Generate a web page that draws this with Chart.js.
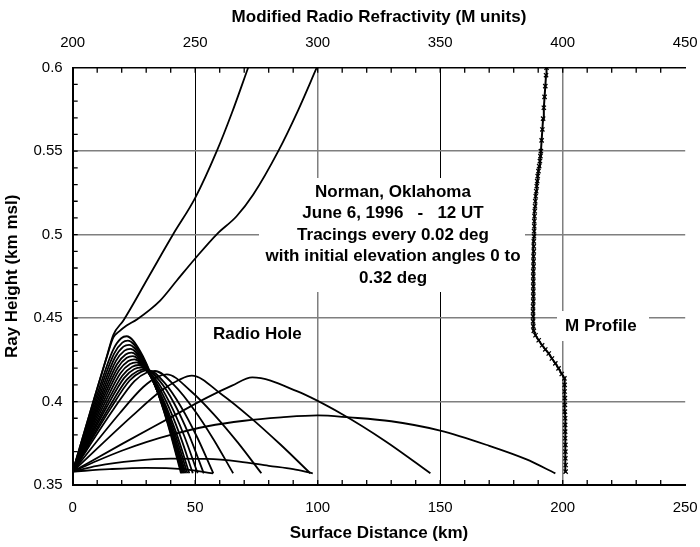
<!DOCTYPE html>
<html>
  <head>
    <meta charset="utf-8">
    <title>Radio Hole</title>
    <script src="https://cdn.jsdelivr.net/npm/chart.js@4.4.1/dist/chart.umd.min.js"></script>
    <style>
      html, body { margin: 0; padding: 0; background: #fff; }
      #wrap { width: 700px; height: 547px; }
    </style>
  </head>
  <body>
    <div id="wrap"><canvas id="myChart" width="700" height="547"></canvas></div>

    <script type="text/javascript">
      // tick labels
      var distTicks = ['0', '50', '100', '150', '200', '250'];
      var refrTicks = ['200', '250', '300', '350', '400', '450'];
      var heightTicks = ['0.35', '0.4', '0.45', '0.5', '0.55', '0.6'];

      // ray tracings, [surface distance km, height km]
      var rayEscape1 = [[0,0.358],[8.3,0.3995],[14,0.4275],[16.6,0.4400],[20.7,0.4486],[30.9,0.4745],[41,0.5002],[50,0.522],[58.8,0.55],[65,0.573],[71.6,0.6]];
      var rayEscape2 = [[0,0.358],[8.3,0.3993],[14,0.427],[16.6,0.4385],[19,0.442],[22,0.4455],[26.2,0.4492],[35.7,0.4605],[42.5,0.4725],[50,0.4857],[58.8,0.5002],[66.9,0.511],[73.7,0.524],[83.9,0.55],[92,0.5745],[99.6,0.6]];
      var rayA1 = [[0,0.358],[11,0.4087],[16.5,0.4310],[19.8,0.4379],[22,0.4391],[27.55,0.4302],[33.1,0.4120],[38.65,0.3873],[44.2,0.357]];
      var rayA2 = [[0,0.358],[11.25,0.4071],[16.9,0.4287],[20.25,0.4353],[22.5,0.4365],[28,0.4279],[33.5,0.4103],[39,0.3863],[44.5,0.357]];
      var rayA3 = [[0,0.358],[11.5,0.4055],[17.25,0.4264],[20.7,0.4329],[23,0.434],[28.45,0.4256],[33.9,0.4086],[39.35,0.3854],[44.8,0.357]];
      var rayA4 = [[0,0.358],[11.75,0.404],[17.6,0.4242],[21.15,0.4305],[23.5,0.4316],[28.9,0.4235],[34.35,0.4070],[39.8,0.3845],[45.2,0.357]];
      var rayA5 = [[0,0.358],[12,0.4026],[18,0.4222],[21.6,0.4282],[24,0.4293],[29.4,0.4214],[34.8,0.4054],[40.2,0.3837],[45.6,0.357]];
      var rayA6 = [[0,0.358],[12.25,0.4013],[18.4,0.4203],[22.05,0.4262],[24.5,0.4272],[29.9,0.4196],[35.3,0.4040],[40.7,0.3829],[46.1,0.357]];
      var rayA7 = [[0,0.358],[12.6,0.4001],[18.9,0.4186],[22.7,0.4243],[25.2,0.4253],[30.6,0.4179],[36,0.4028],[41.4,0.3822],[46.8,0.357]];
      var rayA8 = [[0,0.358],[13,0.3989],[19.5,0.417],[23.4,0.4225],[26,0.4235],[31.4,0.4163],[36.8,0.4016],[42.2,0.3815],[47.6,0.357]];
      var rayA9 = [[0,0.358],[13.5,0.3979],[20.25,0.4155],[24.3,0.4209],[27,0.4219],[32.5,0.4148],[38,0.4005],[43.5,0.3809],[49,0.357]];
      var rayA10 = [[0,0.358],[14,0.397],[21,0.4142],[25.2,0.4195],[28,0.4204],[33.75,0.4135],[39.5,0.3995],[45.25,0.3804],[51,0.357]];
      var rayA11 = [[0,0.358],[14.75,0.3963],[22.1,0.4131],[26.55,0.4183],[29.5,0.4192],[35.5,0.4124],[41.5,0.3987],[47.5,0.3799],[53.5,0.357]];
      var rayA12 = [[0,0.358],[15.5,0.3959],[23.25,0.4126],[27.9,0.4178],[31,0.4187],[37.6,0.411],[44.2,0.3969],[50.8,0.3786],[57.4,0.357]];
      var rayB = [[0,0.358],[16.8,0.3957],[25.2,0.4123],[30.25,0.4174],[33.6,0.4183],[41.6,0.4095],[49.55,0.3951],[57.5,0.3773],[65.5,0.357]];
      var rayC = [[0,0.358],[19.2,0.393],[28.8,0.4087],[34.6,0.4148],[38.4,0.4163],[48.05,0.4065],[57.7,0.3922],[67.35,0.3755],[77,0.357]];
      var rayD = [[0,0.358],[24.3,0.3914],[36.5,0.4069],[43.7,0.4132],[48.6,0.4155],[60.7,0.4044],[72.8,0.3901],[84.9,0.3741],[97,0.357]];
      var rayE = [[0,0.358],[20,0.3745],[40,0.3905],[55,0.4025],[65,0.4095],[73.3,0.4145],[91.5,0.4062],[109.65,0.3927],[127.8,0.3761],[146,0.357]];
      var rayF = [[0,0.358],[10,0.3645],[20,0.3705],[30,0.3757],[40,0.38],[55,0.3852],[70,0.3885],[85,0.3905],[100,0.3917],[113,0.3905],[130,0.3882],[150,0.3826],[170,0.3735],[185,0.3655],[197,0.357]];
      var rayG = [[0,0.358],[10,0.3615],[25,0.3645],[40,0.3658],[55,0.3656],[68,0.364],[80,0.3615],[90,0.3595],[98,0.357]];
      var rayH = [[0,0.358],[15,0.3595],[30,0.3603],[45,0.3595],[57.3,0.357]];

      var rays = [rayEscape1, rayEscape2, rayA1, rayA2, rayA3, rayA4, rayA5, rayA6, rayA7, rayA8, rayA9, rayA10, rayA11, rayA12, rayB, rayC, rayD, rayE, rayF, rayG, rayH];

      // M profile
      var mHeight = [0.358,0.362,0.366,0.370,0.374,0.378,0.382,0.386,0.390,0.394,0.398,0.402,0.406,0.410,
        0.4139,0.4165,0.4199,0.4229,0.4258,0.4288,0.4312,0.4337,0.4367,0.4397,0.4423,
        0.445,0.448,0.451,0.454,0.457,0.460,0.463,0.466,0.469,0.472,0.475,0.478,0.481,0.484,0.487,0.490,0.493,0.496,0.499,
        0.502,0.505,0.508,0.511,0.514,0.517,0.520,0.523,0.526,0.529,0.532,0.535,0.538,0.541,0.544,0.547,0.550,
        0.5565,0.563,0.5695,0.576,0.5825,0.589,0.5955,0.6];
      var mUnits = [401.2,401.2,401.1,401.1,401.1,401.0,401.0,401.0,401.0,400.9,400.9,400.9,400.8,400.8,
        400.7,399.6,398.3,397.0,395.6,394.3,392.9,391.6,390.2,388.9,388.2,
        388.0,387.9,387.9,387.9,387.9,388.0,388.0,388.0,388.0,388.0,388.0,388.0,388.1,388.1,388.1,388.2,388.2,388.2,388.3,
        388.3,388.4,388.4,388.5,388.6,388.7,388.8,389.0,389.2,389.4,389.6,389.8,390.1,390.4,390.7,390.9,391.1,
        391.4,391.7,392.0,392.3,392.6,392.9,393.2,393.4];

      var FONT = '"Liberation Sans", Arial, Helvetica, sans-serif';
      var GRAY = '#7f7f7f';

      var datasets = [];
      for (var i = 0; i < rays.length; i++) {
        datasets.push({
          data: rays[i].map(function(p) { return {x: p[0], y: p[1]}; }),
          xAxisID: 'x',
          showLine: true,
          borderColor: '#000',
          borderWidth: 1.8,
          pointRadius: 0,
          cubicInterpolationMode: 'monotone'
        });
      }
      datasets.push({
        data: mHeight.map(function(h, k) { return {x: mUnits[k], y: h}; }),
        xAxisID: 'x2',
        showLine: true,
        borderColor: '#000',
        borderWidth: 2,
        tension: 0,
        pointStyle: 'crossRot',
        pointRadius: 3,
        pointBorderWidth: 1.3,
        pointBorderColor: '#000'
      });

      // no automatic side padding for the end labels
      function fitX(h) {
        return function(s) { s.height = h; s.paddingLeft = 0; s.paddingRight = 0; };
      }

      // white boxes behind the notes, minor ticks and the notes themselves
      var notes = {
        id: 'notes',
        beforeDatasetsDraw: function(chart) {
          var ctx = chart.ctx;
          ctx.save();
          ctx.fillStyle = '#fff';
          ctx.fillRect(259, 178, 266, 114);
          ctx.fillRect(557, 311, 92, 30);
          ctx.restore();
        },
        afterDatasetsDraw: function(chart) {
          var ctx = chart.ctx;
          var a = chart.chartArea;
          var sx = chart.scales.x, sx2 = chart.scales.x2, sy = chart.scales.y;
          ctx.save();
          ctx.strokeStyle = '#000';
          ctx.lineWidth = 1.3;
          ctx.beginPath();
          for (var v = 10; v < 250; v += 10) {
            var px = sx.getPixelForValue(v);
            ctx.moveTo(px, a.bottom); ctx.lineTo(px, a.bottom - 5);
          }
          for (var m = 210; m < 450; m += 10) {
            var qx = sx2.getPixelForValue(m);
            ctx.moveTo(qx, a.top); ctx.lineTo(qx, a.top + 5);
          }
          for (var k = 36; k < 60; k++) {
            var py = sy.getPixelForValue(k / 100);
            ctx.moveTo(a.left, py); ctx.lineTo(a.left + 5, py);
          }
          ctx.stroke();

          ctx.fillStyle = '#000';
          ctx.font = 'bold 17px ' + FONT;
          ctx.textAlign = 'center';
          ctx.textBaseline = 'middle';
          var lines = ['Norman, Oklahoma', 'June 6, 1996   -   12 UT', 'Tracings every 0.02 deg', 'with initial elevation angles 0 to', '0.32 deg'];
          for (var j = 0; j < lines.length; j++) {
            ctx.fillText(lines[j], 393, 192 + j * 21.5);
          }
          ctx.textAlign = 'left';
          ctx.fillText('Radio Hole', 213, 334);
          ctx.fillText('M Profile', 565, 326);
          ctx.restore();
        }
      };

      var ctx = document.getElementById('myChart').getContext('2d');
      var chart = new Chart(ctx, {
        type: 'scatter',
        data: { datasets: datasets },
        options: {
          responsive: false,
          animation: false,
          events: [],
          layout: { padding: { left: 0, right: 14.8, top: 0, bottom: 0 } },
          plugins: { legend: { display: false }, tooltip: { enabled: false } },
          scales: {
            x: {
              type: 'linear', position: 'bottom', min: 0, max: 250,
              afterFit: fitX(62),
              ticks: {
                stepSize: 50, color: '#000', padding: 14, maxRotation: 0,
                font: { family: FONT, size: 15 },
                callback: function(v, i) { return distTicks[i]; }
              },
              grid: {
                drawTicks: false,
                color: function(c) {
                  var v = c.tick ? c.tick.value : 0;
                  if (v === 50 || v === 150) return '#000';
                  if (v === 100 || v === 200) return GRAY;
                  return 'rgba(0,0,0,0)';
                },
                lineWidth: function(c) {
                  var v = c.tick ? c.tick.value : 0;
                  return (v === 100 || v === 200) ? 1.5 : 1;
                }
              },
              border: { color: '#000', width: 2 },
              title: {
                display: true, text: 'Surface Distance (km)', color: '#000',
                font: { family: FONT, size: 17, weight: 'bold' },
                padding: { top: 0, bottom: 3 }
              }
            },
            x2: {
              type: 'linear', position: 'top', min: 200, max: 450,
              afterFit: fitX(67.7),
              ticks: {
                stepSize: 50, color: '#000', padding: 16, maxRotation: 0,
                font: { family: FONT, size: 15 },
                callback: function(v, i) { return refrTicks[i]; }
              },
              grid: { drawOnChartArea: false, drawTicks: false },
              border: { color: '#000', width: 1.5 },
              title: {
                display: true, text: 'Modified Radio Refractivity (M units)', color: '#000',
                font: { family: FONT, size: 17, weight: 'bold' },
                padding: { top: 7, bottom: 0 }
              }
            },
            y: {
              type: 'linear', position: 'left', min: 0.35, max: 0.6,
              afterFit: function(s) { s.width = 72.7; },
              ticks: {
                stepSize: 0.05, color: '#000', padding: 10,
                font: { family: FONT, size: 15 },
                callback: function(v, i) { return heightTicks[i]; }
              },
              grid: {
                drawTicks: false,
                color: function(c) {
                  var i = c.index;
                  return (i === 0 || i === heightTicks.length - 1) ? 'rgba(0,0,0,0)' : GRAY;
                },
                lineWidth: 1.5
              },
              border: { color: '#000', width: 2 },
              title: {
                display: true, text: 'Ray Height (km msl)', color: '#000',
                font: { family: FONT, size: 17, weight: 'bold' },
                padding: { top: 2, bottom: 0 }
              }
            }
          }
        },
        plugins: [notes]
      });
    </script>
  </body>
</html>
